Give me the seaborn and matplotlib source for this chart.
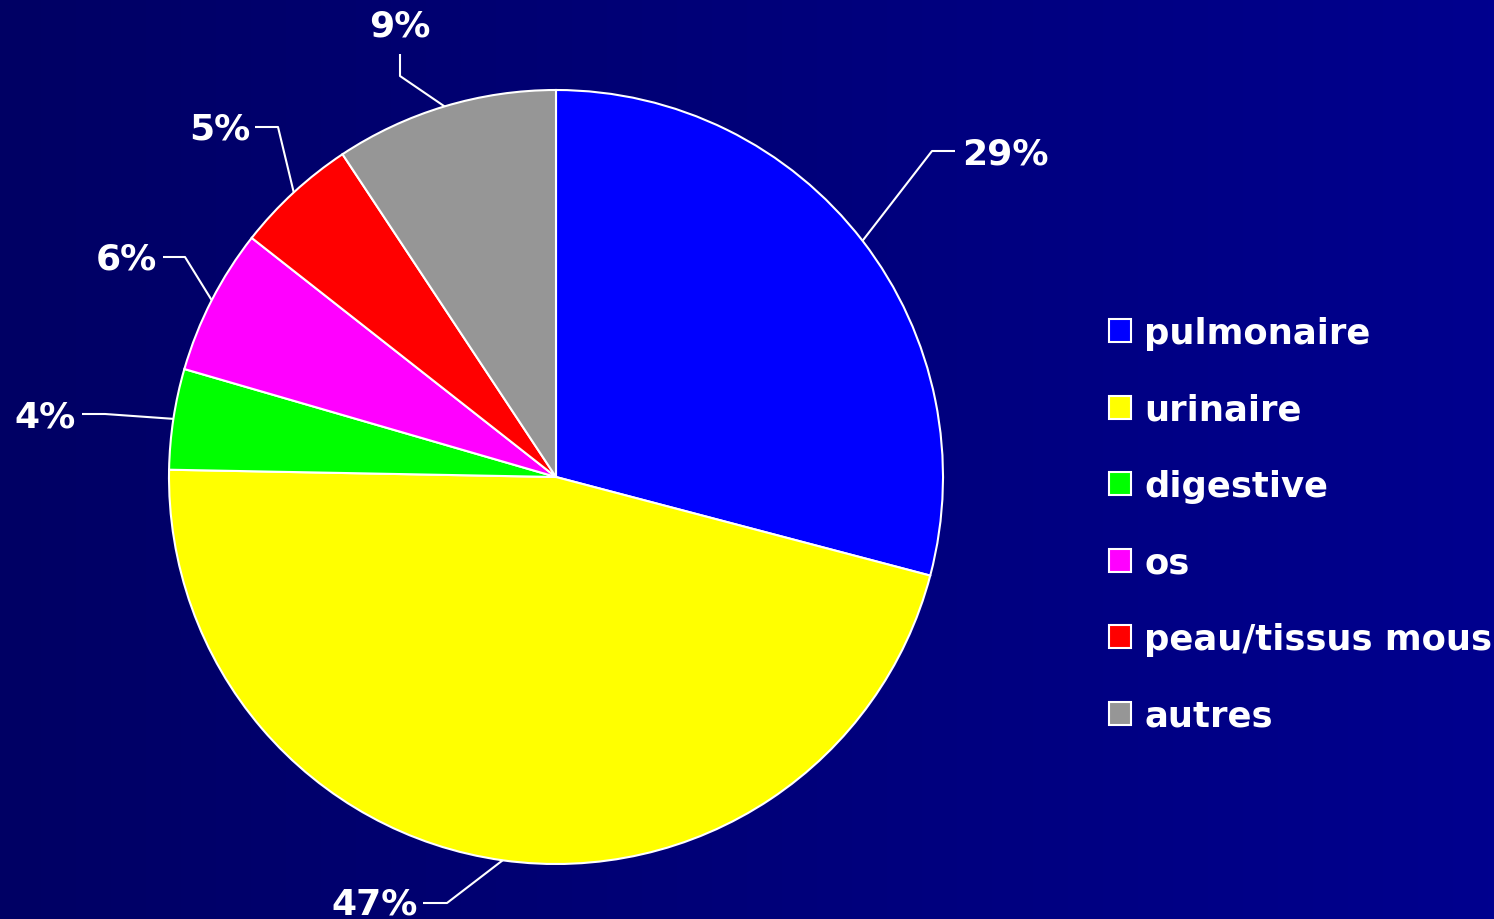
import numpy as np
import matplotlib
matplotlib.use("Agg")
import matplotlib.pyplot as plt
import seaborn as sns

# ---- data ----
categories = ["pulmonaire", "urinaire", "digestive", "os", "peau/tissus mous", "autres"]
values = [29.1, 46.2, 4.2, 6.1, 5.1, 9.3]
pct_labels = ["29%", "47%", "4%", "6%", "5%", "9%"]
colors = ["#0000FF", "#FFFF00", "#00FF00", "#FF00FF", "#FF0000", "#969696"]

sns.set_theme(style="white")
plt.rcParams['font.family'] = ['DejaVu Sans']

W, H = 1494, 920
fig = plt.figure(figsize=(W / 100, H / 100), dpi=100)

# background gradient
bg = fig.add_axes([0, 0, 1, 1], zorder=0)
grad = np.linspace(0, 1, 256)[None, :]
c0 = np.array([0, 0, 100]) / 255
c1 = np.array([0, 0, 142]) / 255
img = c0[None, None, :] * (1 - grad[..., None]) + c1[None, None, :] * grad[..., None]
bg.imshow(img, aspect="auto", extent=[0, 1, 0, 1])
bg.set_axis_off()

# pie axes: centre (556,478) px, radius 387 px
cx, cy, R = 556, 478, 387
ax = fig.add_axes([(cx - R) / W, (H - cy - R) / H, 2 * R / W, 2 * R / H], zorder=1)
wedges, _ = ax.pie(values, colors=colors, startangle=90, counterclock=False,
                   wedgeprops=dict(edgecolor="white", linewidth=1.5))
ax.set_xlim(-1, 1)
ax.set_ylim(-1, 1)
ax.set_aspect("equal")
ax.set_axis_off()


def d(px, py):
    return (px - cx) / R, (cy - py) / R

# label layout: (elbow px, end px, text px, ha, va)
layout = [
    ((932, 152), (955, 152), (962, 155), "left", "center"),
    ((447, 904), (423, 904), (418, 905), "right", "center"),
    ((105, 415), (82, 415), (76, 418), "right", "center"),
    ((185, 258), (163, 258), (157, 260), "right", "center"),
    ((278, 128), (255, 128), (250, 130), "right", "center"),
    ((400, 77), (400, 55), (400, 27), "center", "center"),
]

for w, lab, (elb, end, tp, ha, va) in zip(wedges, pct_labels, layout):
    mid = np.deg2rad((w.theta1 + w.theta2) / 2)
    ex, ey = np.cos(mid), np.sin(mid)
    bx, by = d(*elb)
    fx, fy = d(*end)
    ax.plot([ex, bx, fx], [ey, by, fy], color="white", lw=1.5, clip_on=False,
            solid_capstyle="butt")
    tx, ty = d(*tp)
    ax.text(tx, ty, lab, ha=ha, va=va, color="white", fontsize=26,
            fontweight="bold", clip_on=False)

leg = fig.legend(wedges, categories, loc="upper left",
                 bbox_to_anchor=(1109 / W, 1 - 317 / H),
                 frameon=False, labelcolor="white",
                 prop=dict(weight="bold", size=25.5),
                 handlelength=0.62, handleheight=0.62, handletextpad=0.37,
                 labelspacing=1.2, borderaxespad=0, borderpad=0)

fig.savefig("out.png", dpi=100, facecolor=fig.get_facecolor())
